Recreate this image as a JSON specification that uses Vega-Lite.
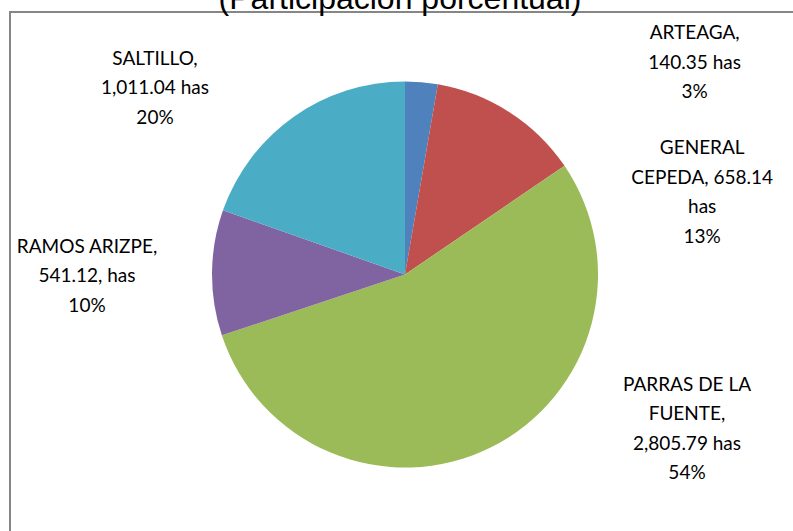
{
  "$schema": "https://vega.github.io/schema/vega-lite/v6.json",
  "width": 790,
  "height": 525,
  "autosize": "none",
  "padding": {"left": 10, "top": 12, "right": 0, "bottom": 0},
  "background": "white",
  "title": {"text": "(Participación porcentual)", "font": "Liberation Sans", "fontSize": 32, "fontWeight": "normal", "color": "#000000", "anchor": "middle", "frame": "group", "baseline": "alphabetic", "offset": -30, "dx": -5},
  "config": {"view": {"stroke": null}},
  "data": {"values": [
    {"municipio": "ARTEAGA", "has": 140.35, "orden": 1, "etiqueta": ["ARTEAGA,", "140.35 has", "3%"]},
    {"municipio": "GENERAL CEPEDA", "has": 658.14, "orden": 2, "etiqueta": ["GENERAL", "CEPEDA, 658.14", "has", "13%"]},
    {"municipio": "PARRAS DE LA FUENTE", "has": 2805.79, "orden": 3, "etiqueta": ["PARRAS DE LA", "FUENTE,", "2,805.79 has", "54%"]},
    {"municipio": "RAMOS ARIZPE", "has": 541.12, "orden": 4, "etiqueta": ["RAMOS ARIZPE,", "541.12, has", "10%"]},
    {"municipio": "SALTILLO", "has": 1011.04, "orden": 5, "etiqueta": ["SALTILLO,", "1,011.04 has", "20%"]}
  ]},
  "layer": [
    {
      "mark": {"type": "rect", "fill": null, "stroke": "#868686", "strokeWidth": 2},
      "encoding": {}
    },
    {
      "mark": {"type": "arc", "outerRadius": 193},
      "encoding": {
        "theta": {"field": "has", "type": "quantitative", "stack": true},
        "order": {"field": "orden", "type": "quantitative"},
        "color": {"field": "municipio", "type": "nominal", "legend": null,
          "scale": {"domain": ["ARTEAGA", "GENERAL CEPEDA", "PARRAS DE LA FUENTE", "RAMOS ARIZPE", "SALTILLO"],
                    "range": ["#4F81BD", "#C0504D", "#9BBB59", "#8064A2", "#4BACC6"]}}
      }
    },
    {
      "mark": {"type": "text", "radius": 242, "dx": 269, "dy": 0, "font": "Lato", "fontSize": 19, "lineHeight": 29.5, "align": "center", "baseline": "middle", "color": "#000000"},
      "encoding": {
        "theta": {"field": "has", "type": "quantitative", "stack": true},
        "order": {"field": "orden", "type": "quantitative"},
        "text": {"condition": {"test": "datum.municipio === 'ARTEAGA'", "field": "etiqueta"}, "value": ""}}
    },
    {
      "mark": {"type": "text", "radius": 150, "dx": 216, "dy": 0, "font": "Lato", "fontSize": 19, "lineHeight": 29.5, "align": "center", "baseline": "middle", "color": "#000000"},
      "encoding": {
        "theta": {"field": "has", "type": "quantitative", "stack": true},
        "order": {"field": "orden", "type": "quantitative"},
        "text": {"condition": {"test": "datum.municipio === 'GENERAL CEPEDA'", "field": "etiqueta"}, "value": ""}}
    },
    {
      "mark": {"type": "text", "radius": 123, "dx": 227.5, "dy": 0, "font": "Lato", "fontSize": 19, "lineHeight": 29.5, "align": "center", "baseline": "middle", "color": "#000000"},
      "encoding": {
        "theta": {"field": "has", "type": "quantitative", "stack": true},
        "order": {"field": "orden", "type": "quantitative"},
        "text": {"condition": {"test": "datum.municipio === 'PARRAS DE LA FUENTE'", "field": "etiqueta"}, "value": ""}}
    },
    {
      "mark": {"type": "text", "radius": 150, "dx": -168, "dy": -26.6, "font": "Lato", "fontSize": 19, "lineHeight": 29.5, "align": "center", "baseline": "middle", "color": "#000000"},
      "encoding": {
        "theta": {"field": "has", "type": "quantitative", "stack": true},
        "order": {"field": "orden", "type": "quantitative"},
        "text": {"condition": {"test": "datum.municipio === 'RAMOS ARIZPE'", "field": "etiqueta"}, "value": ""}}
    },
    {
      "mark": {"type": "text", "radius": 180, "dx": -146, "dy": -69, "font": "Lato", "fontSize": 19, "lineHeight": 29.5, "align": "center", "baseline": "middle", "color": "#000000"},
      "encoding": {
        "theta": {"field": "has", "type": "quantitative", "stack": true},
        "order": {"field": "orden", "type": "quantitative"},
        "text": {"condition": {"test": "datum.municipio === 'SALTILLO'", "field": "etiqueta"}, "value": ""}}
    }
  ]
}
